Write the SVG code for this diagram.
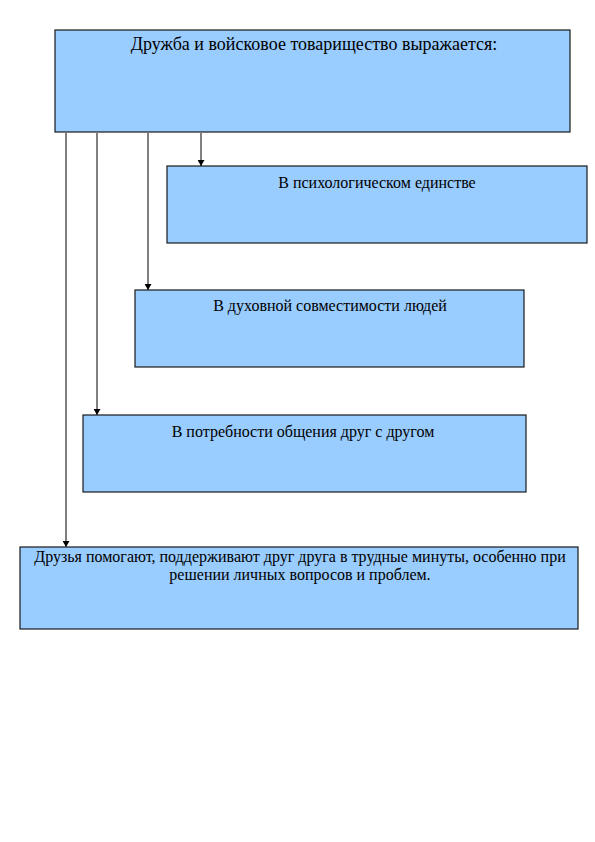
<svg xmlns="http://www.w3.org/2000/svg" width="595" height="842" viewBox="0 0 595 842">
<defs>
<style>
.box{fill:#99CCFF;stroke:#1a1a1a;stroke-width:1.2}
.t{font-family:"Liberation Serif","Times New Roman",serif;fill:#000;text-anchor:middle;font-size:16px}
.c{stroke:#000;stroke-width:1;fill:none}
</style>
<marker id="ah" markerWidth="6" markerHeight="7" refX="6" refY="3.5" orient="auto" markerUnits="userSpaceOnUse">
<path d="M0,0 L6,3.5 L0,7 Z" fill="#000"/>
</marker>
</defs>
<rect width="595" height="842" fill="#fff"/>
<g id="connectors">
<line class="c" x1="201" y1="133" x2="201" y2="166" marker-end="url(#ah)"/>
<line class="c" x1="148" y1="133" x2="148" y2="290" marker-end="url(#ah)"/>
<line class="c" x1="97" y1="133" x2="97" y2="415" marker-end="url(#ah)"/>
<line class="c" x1="66" y1="133" x2="66" y2="547" marker-end="url(#ah)"/>
</g>
<g id="n1">
<rect class="box" x="55" y="30" width="515" height="102"/>
<text class="t" x="314" y="50" style="font-size:18px">Дружба и войсковое товарищество выражается:</text>
</g>
<g id="n2">
<rect class="box" x="167" y="166" width="420" height="77"/>
<text class="t" x="377" y="188">В психологическом единстве</text>
</g>
<g id="n3">
<rect class="box" x="135" y="290" width="389" height="77"/>
<text class="t" x="330" y="311">В духовной совместимости людей</text>
</g>
<g id="n4">
<rect class="box" x="83" y="415" width="443" height="77"/>
<text class="t" x="303" y="437">В потребности общения друг с другом</text>
</g>
<g id="n5">
<rect class="box" x="20" y="547" width="558" height="82"/>
<text class="t" x="300" y="562">Друзья помогают, поддерживают друг друга в трудные минуты, особенно при</text>
<text class="t" x="300" y="580">решении личных вопросов и проблем.</text>
</g>
</svg>
